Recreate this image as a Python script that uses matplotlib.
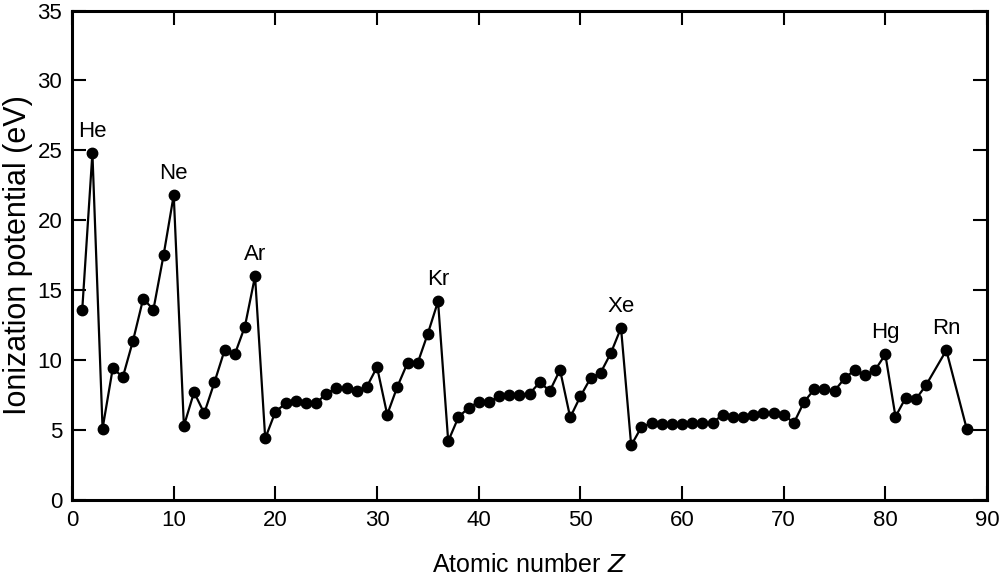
import matplotlib
matplotlib.use("Agg")
import matplotlib.pyplot as plt
from matplotlib import font_manager

# atomic numbers plotted (85 and 87 are not in the figure)
Z = list(range(1, 85)) + [86, 88]

# ionization potential (eV)
IP = [
    13.6, 24.8,                                              # H, He
    5.1, 9.4, 8.8, 11.4, 14.4, 13.6, 17.5, 21.8,             # Li..Ne
    5.3, 7.7, 6.2, 8.4, 10.7, 10.4, 12.4, 16.0,              # Na..Ar
    4.4, 6.3, 6.9, 7.1, 6.9, 6.9, 7.6, 8.0, 8.0, 7.8, 8.1,   # K..Cu
    9.5, 6.1, 8.1, 9.8, 9.8, 11.9, 14.2,                     # Zn..Kr
    4.2, 5.9, 6.6, 7.0, 7.0, 7.4, 7.5, 7.5, 7.6, 8.4, 7.8,   # Rb..Ag
    9.3, 5.9, 7.4, 8.7, 9.1, 10.5, 12.3,                     # Cd..Xe
    3.9, 5.2, 5.5, 5.4, 5.4, 5.4, 5.5, 5.5, 5.5, 6.1, 5.9,   # Cs..Tb
    5.9, 6.1, 6.2, 6.2, 6.1, 5.5,                            # Dy..Lu
    7.0, 7.9, 7.9, 7.8, 8.7, 9.3, 8.9, 9.3, 10.4,            # Hf..Hg
    5.95, 7.3, 7.2, 8.2,                                     # Tl..Po
    10.7, 5.1,                                               # Rn, Ra
]

LABELS = ["He", "Ne", "Ar", "Kr", "Xe", "Hg", "Rn"]
LABEL_Z = [2, 10, 18, 36, 54, 80, 86]

XTICKS = list(range(0, 91, 10))
YTICKS = list(range(0, 36, 5))

# the scan uses a condensed sans; use a narrow face if one is installed
names = {f.name for f in font_manager.fontManager.ttflist}
if "Liberation Sans Narrow" in names:
    plt.rcParams["font.family"] = ["Liberation Sans Narrow", "DejaVu Sans"]
    fs_tick, fs_lab, fs_el = 18, 21, 19
else:
    plt.rcParams["font.family"] = ["Liberation Sans", "DejaVu Sans"]
    fs_tick, fs_lab, fs_el = 16, 18, 16

fig = plt.figure(figsize=(10.01, 5.84), dpi=100)
ax = fig.add_axes([0.072, 0.144, 0.914, 0.838])

ax.plot(Z, IP, color="black", lw=1.6, marker="o", ms=7.5, mfc="black", mec="black")

for lab, z in zip(LABELS, LABEL_Z):
    ax.annotate(lab, (z, IP[Z.index(z)]), xytext=(0, 8), textcoords="offset points",
                ha="center", va="bottom", fontsize=fs_el)

ax.set_xlim(0, 90)
ax.set_ylim(0, 35)
ax.set_xticks(XTICKS)
ax.set_yticks(YTICKS)
ax.tick_params(direction="in", length=10, width=1.5, top=True, right=True,
               labeltop=False, labelright=False, labelsize=fs_tick, pad=7)
for s in ax.spines.values():
    s.set_linewidth(2.2)

ax.set_xlabel("Atomic number $\\it{Z}$", fontsize=fs_lab, labelpad=16)
# the scan stretches this label along its length, so it is set larger
ax.set_ylabel("Ionization potential (eV)", fontsize=22, labelpad=3,
              family=["Liberation Sans", "DejaVu Sans"])

fig.savefig("out.png", dpi=100)
